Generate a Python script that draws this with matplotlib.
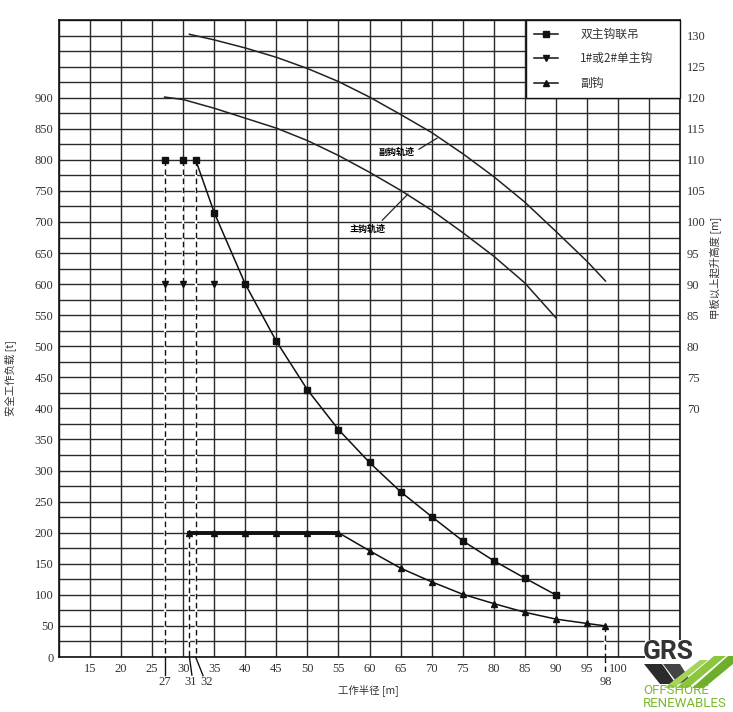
import numpy as np
import matplotlib.pyplot as plt
from matplotlib.lines import Line2D
from matplotlib.patches import Rectangle, Polygon

plt.rcParams['font.family'] = ['Noto Sans CJK SC', 'DejaVu Sans']

# 双主钩联吊 (safe working load, t)
radius_dual = [27, 30, 32, 35, 40, 45, 50, 55, 60, 65, 70, 75, 80, 85, 90]
load_dual = [800, 800, 800, 715, 600, 508, 430, 366, 313, 266, 226, 187, 155, 127, 100]
# 1#或2#单主钩
radius_single = [27, 30, 35]
load_single = [600, 600, 600]
# 副钩
radius_aux = [31, 35, 40, 45, 50, 55, 60, 65, 70, 75, 80, 85, 90, 95, 98]
load_aux = [200, 200, 200, 200, 200, 200, 171, 143, 121, 101, 86, 72, 61, 54, 50]
aux_flat_end = 55

# hook height above deck (m)
track_aux_r = [31, 35, 40, 45, 50, 55, 60, 65, 70, 75, 80, 85, 90, 95, 98]
track_aux_h = [130.2, 129.3, 128.0, 126.5, 124.7, 122.6, 120.1, 117.3, 114.4, 111.0, 107.3, 103.2, 98.5, 93.7, 90.5]
track_main_r = [27, 30, 35, 40, 45, 50, 55, 60, 65, 70, 75, 80, 85, 90]
track_main_h = [120.1, 119.7, 118.3, 116.7, 115.1, 113.1, 110.7, 108.0, 105.1, 101.9, 98.3, 94.5, 90.2, 84.6]

x_labels = list(range(15, 101, 5))
left_labels = list(range(0, 901, 50))
right_labels = list(range(70, 131, 5))
marked_r = [27, 31, 32, 98]
marked_top = [800, 200, 800, 50]

W, H = 733, 712
def fx(px):
    return px / W
def fy(py):
    return 1 - py / H

fig = plt.figure(figsize=(W / 100, H / 100), dpi=100)
ax = fig.add_axes([fx(59), fy(657), (680 - 59) / W, (657 - 20) / H])
ax.set_xlim(10, 110)
ax.set_ylim(0, 1025)

xt = np.arange(10, 111, 5)
ax.set_xticks(xt)
ax.set_xticklabels([str(v) if v in x_labels else '' for v in xt], fontfamily='Liberation Serif')
yt = np.arange(0, 1026, 25)
ax.set_yticks(yt)
ax.set_yticklabels([str(v) if v in left_labels else '' for v in yt], fontfamily='Liberation Serif')
ax.tick_params(length=0, labelsize=9, colors='#333333')
ax.tick_params(axis='x', pad=4)
ax.tick_params(axis='y', pad=4)
ax.set_axisbelow(True)
ax.grid(True, color='#2a2a2a', lw=1.0)
for s in ax.spines.values():
    s.set_linewidth(1.2)
    s.set_color('#111111')

# dashed guide lines
for r, top in zip(marked_r, marked_top):
    ax.plot([r, r], [top, 0], color='white', lw=1.6, zorder=2)
    ax.plot([r, r], [top, 0], color='#111111', lw=1.0, ls=(0, (4, 2.5)), zorder=2)
ax.plot([30, 30], [800, 600], color='white', lw=1.6, zorder=2)
ax.plot([30, 30], [800, 600], color='#111111', lw=1.0, ls=(0, (4, 2.5)), zorder=2)

# leaders below the axis
ax.plot([27, 27], [0, -29], color='#111111', lw=1.0, clip_on=False)
ax.plot([31, 31.4], [0, -29], color='#111111', lw=1.0, clip_on=False)
ax.plot([32, 33.2], [0, -30], color='#111111', lw=1.0, clip_on=False)
ax.plot([98, 98], [0, -29], color='#111111', lw=1.0, ls=(0, (4, 2.5)), clip_on=False)
for r, dx in zip(marked_r, [0, 0.2, 1.8, 0]):
    ax.text(r + dx, -40, str(r), ha='center', va='center', fontsize=9,
            fontfamily='Liberation Serif', color='#333333', clip_on=False)

# load curves
ax.plot(radius_dual[2:], load_dual[2:], color='#111111', lw=1.1, zorder=4)
ax.plot(radius_dual, load_dual, ls='none', marker='s', ms=5, color='#111111', zorder=5)
ax.plot(radius_single, load_single, ls='none', marker='v', ms=5, color='#111111', zorder=5)
ax.plot(radius_aux, load_aux, color='#111111', lw=1.1, marker='^', ms=5, zorder=4)
flat = [i for i, r in enumerate(radius_aux) if r <= aux_flat_end]
ax.plot([radius_aux[i] for i in flat], [load_aux[i] for i in flat], color='#111111', lw=2.8, zorder=4)

# legend
handles = [Line2D([], [], color='#111111', lw=1.1, marker='s', ms=5),
           Line2D([], [], color='#111111', lw=1.1, marker='v', ms=5),
           Line2D([], [], color='#111111', lw=1.1, marker='^', ms=5)]
leg = ax.legend(handles, ['双主钩联吊', '1#或2#单主钩', '副钩'], loc='upper left',
                bbox_to_anchor=(0.752, 0.879, 0.248, 0.121), mode='expand', borderaxespad=0,
                frameon=True, fancybox=False, edgecolor='#111111', framealpha=1,
                fontsize=8.5, handlelength=2.0, handletextpad=1.9, labelspacing=0.95,
                borderpad=0.7)
leg.get_frame().set_linewidth(1.0)
for t in leg.get_texts():
    t.set_color('#333333')

# hook height axis
ax2 = ax.twinx()
ax2.set_ylim(30, 132.5)
ax2.set_yticks(right_labels)
ax2.set_yticklabels([str(v) for v in right_labels], fontfamily='Liberation Serif')
ax2.tick_params(length=0, labelsize=9, pad=5, colors='#333333')
for s in ax2.spines.values():
    s.set_visible(False)
ax2.plot(track_aux_r, track_aux_h, color='#222222', lw=1.1)
ax2.plot(track_main_r, track_main_h, color='#222222', lw=1.1)
ax2.annotate('副钩轨迹', xy=(70.9, 113.5), xytext=(64.4, 111.3), ha='center', va='center',
             fontsize=6.5, fontweight='bold',
             arrowprops=dict(arrowstyle='-', lw=0.9, color='#222222', shrinkA=1, shrinkB=0,
                             relpos=(1, 0.5)))
ax2.annotate('主钩轨迹', xy=(66.2, 104.5), xytext=(59.7, 98.9), ha='center', va='center',
             fontsize=6.5, fontweight='bold',
             arrowprops=dict(arrowstyle='-', lw=0.9, color='#222222', shrinkA=1, shrinkB=0,
                             relpos=(0.8, 1)))

# axis titles
fig.text(fx(10), fy(378), '安全工作负载 [t]', rotation=90, ha='center', va='center',
         fontsize=7.5, color='#333333')
fig.text(fx(716), fy(268), '甲板以上起升高度 [m]', rotation=90, ha='center', va='center',
         fontsize=7.5, color='#333333')
fig.text(fx(368), fy(690), '工作半径 [m]', ha='center', va='center', fontsize=7.5, color='#333333')

# GRS logo in the corner
fig.patches.append(Rectangle((fx(645), 0), 1 - fx(645), fy(640), transform=fig.transFigure,
                             facecolor='white', edgecolor='none', zorder=10))
def poly(pts, color):
    fig.patches.append(Polygon([(fx(a), fy(b)) for a, b in pts], closed=True,
                               transform=fig.transFigure, facecolor=color,
                               edgecolor='none', zorder=11))
poly([(644, 664), (662, 664), (676, 684), (660, 684)], '#2b2b2b')
poly([(663, 664), (680, 664), (690, 680), (678, 684)], '#444444')
poly([(676, 688), (714, 656), (726, 656), (688, 688)], '#8cc63e')
poly([(692, 688), (728, 656), (733, 656), (733, 664), (704, 688)], '#6fae2c')
poly([(664, 688), (700, 660), (708, 660), (674, 688)], '#a6d45a')
fig.text(fx(643), fy(652), 'GRS', ha='left', va='center', fontsize=19, fontweight='bold',
         family=['Roboto', 'DejaVu Sans'], color='#333333', zorder=12)
fig.text(fx(643), fy(697), 'OFFSHORE\nRENEWABLES', ha='left', va='center', fontsize=9.5,
         linespacing=0.92, family=['Roboto', 'DejaVu Sans'], color='#7cb82f', zorder=12)

fig.savefig('out.png', dpi=100)
